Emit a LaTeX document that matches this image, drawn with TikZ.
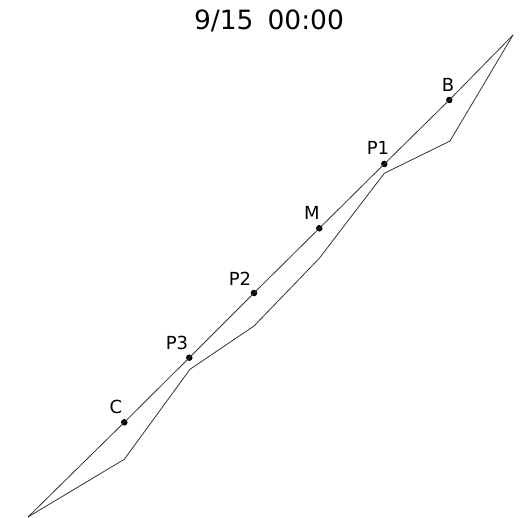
\documentclass[tikz,border=0pt]{standalone}
\usepackage{fontspec}
\setmainfont{DejaVu Sans}
\begin{document}
\begin{tikzpicture}[x=1pt,y=-1pt,
  edge/.style={draw=black!80,line width=0.8pt,line join=round},
  dot/.style={circle,fill=black,inner sep=0pt,minimum size=6.5pt},
  lbl/.style={font=\fontsize{18}{18}\selectfont,inner sep=0pt}]
\useasboundingbox (0,0) rectangle (521,518);
\node[font=\fontsize{26.5}{26.5}\selectfont,inner sep=0pt] (title) at (269,21) {9/15\hspace{14pt}00:00};
\coordinate (T) at (513,35);
\coordinate (S) at (28,517);
\node[dot] (B) at (449.3,100) {};
\node[dot] (P1) at (384.3,164) {};
\node[dot] (M) at (319.3,228.3) {};
\node[dot] (P2) at (254,293) {};
\node[dot] (P3) at (189.3,357.7) {};
\node[dot] (C) at (124.3,422.3) {};
\coordinate (lB) at (450,141);
\coordinate (lP1) at (384.3,173.3);
\coordinate (lM) at (319.3,258.3);
\coordinate (lP2) at (254,326);
\coordinate (lP3) at (190,369.3);
\coordinate (lC) at (124.3,459.3);
\draw[edge] (S) -- (C.center) -- (P3.center) -- (P2.center) -- (M.center) -- (P1.center) -- (B.center) -- (T);
\draw[edge] (T) -- (lB) -- (lP1) -- (lM) -- (lP2) -- (lP3) -- (lC) -- (S);
\node[lbl] (tB) at (448,85) {B};
\node[lbl] (tP1) at (378,148) {P1};
\node[lbl] (tM) at (312,213) {M};
\node[lbl] (tP2) at (240,279) {P2};
\node[lbl] (tP3) at (177,343) {P3};
\node[lbl] (tC) at (116,407) {C};
\end{tikzpicture}
\end{document}
